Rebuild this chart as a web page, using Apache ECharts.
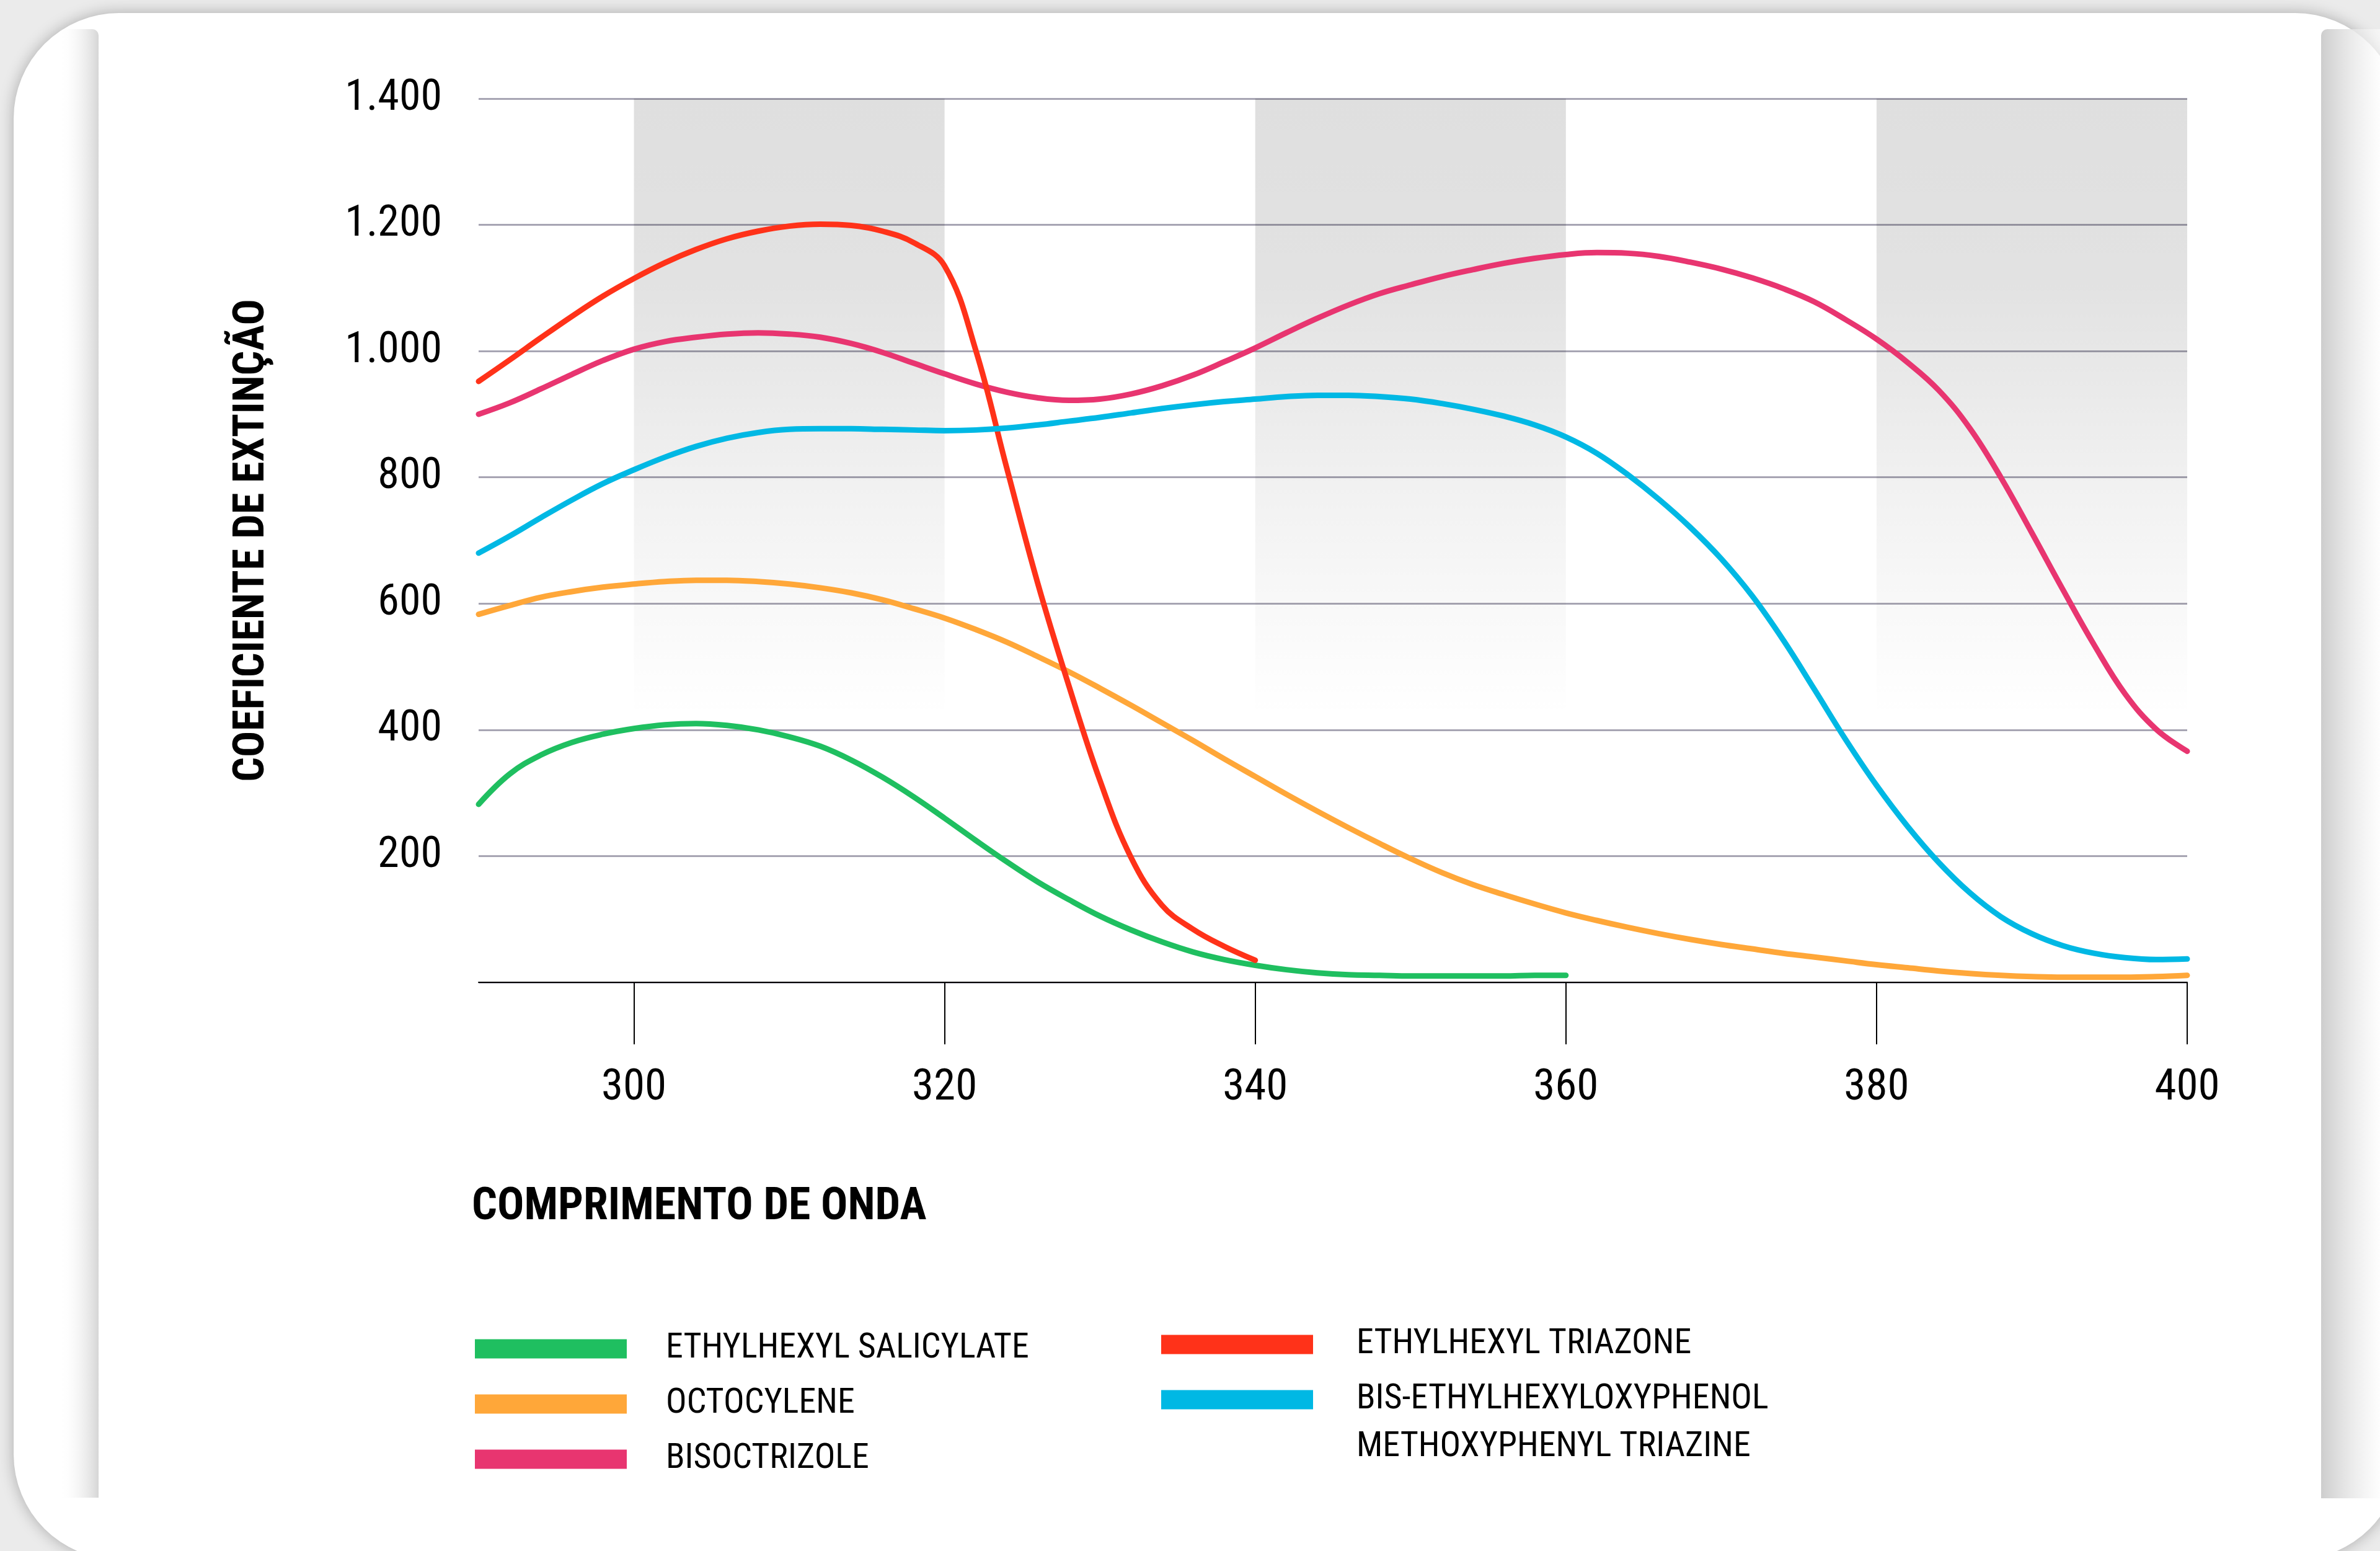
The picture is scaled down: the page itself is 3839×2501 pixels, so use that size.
<!DOCTYPE html>
<html>
<head>
<meta charset="utf-8">
<title>Coeficiente de extinção</title>
<script src="https://cdn.jsdelivr.net/npm/echarts@6/dist/echarts.min.js"></script>
<style>
  html, body { margin: 0; padding: 0; background: #ebebeb; }
  #chart { width: 3839px; height: 2501px; }
</style>
</head>
<body>
<div id="chart"></div>
<script>
var FONT = "'Roboto Condensed', 'Liberation Sans Narrow', 'Liberation Sans', sans-serif";

// comprimento de onda (nm), passo de 2
var wavelength = [290, 292, 294, 296, 298, 300, 302, 304, 306, 308, 310, 312, 314, 316, 318, 320,
  322, 324, 326, 328, 330, 332, 334, 336, 338, 340, 342, 344, 346, 348, 350, 352, 354, 356, 358, 360,
  362, 364, 366, 368, 370, 372, 374, 376, 378, 380, 382, 384, 386, 388, 390, 392, 394, 396, 398, 400];

var names = ['ETHYLHEXYL SALICYLATE', 'OCTOCYLENE', 'BISOCTRIZOLE',
  'ETHYLHEXYL TRIAZONE', 'BIS-ETHYLHEXYLOXYPHENOL METHOXYPHENYL TRIAZINE'];
var colors = ['#1fbf60', '#ffa739', '#e83570', '#ff3219', '#00b8e4'];

var salicylate = [282, 330, 360, 380, 393, 402, 408, 410, 407, 400, 389, 374, 352, 325, 294, 260,
  225, 191, 159, 131, 105, 83, 64, 48, 36, 27, 20, 15, 12, 11, 10, 10, 10, 10, 11, 11];
var octocylene = [583, 597, 610, 619, 626, 631, 635, 637, 637, 635, 631, 625, 617, 606, 592, 577,
  559, 539, 516, 492, 466, 439, 411, 383, 354, 326, 298, 271, 245, 220, 196, 174, 155, 139, 124, 110,
  98, 87, 77, 68, 60, 53, 46, 40, 34, 28, 23, 18, 14, 11, 9, 8, 8, 8, 9, 11];
var bisoctrizole = [900, 918, 940, 963, 985, 1003, 1015, 1022, 1027, 1029, 1027, 1022, 1012, 998, 981, 964,
  948, 935, 926, 922, 924, 932, 945, 962, 983, 1005, 1029, 1052, 1073, 1091, 1105, 1118, 1129, 1139, 1147, 1153,
  1156, 1155, 1150, 1141, 1130, 1116, 1099, 1078, 1050, 1019, 982, 938, 878, 800, 712, 622, 535, 457, 401, 366];
var triazone = [952, 986, 1021, 1055, 1087, 1115, 1140, 1161, 1178, 1190, 1198, 1201, 1199, 1190, 1172, 1135,
  1002, 815, 632, 470, 320, 198, 122, 84, 57, 35];
var bemotrizinol = [680, 707, 736, 764, 790, 812, 832, 849, 862, 871, 876, 877, 877, 876, 875, 874,
  875, 878, 883, 889, 895, 902, 909, 915, 920, 924, 928, 930, 930, 928, 924, 917, 908, 897, 883, 864,
  838, 804, 765, 721, 671, 612, 542, 464, 385, 312, 247, 190, 142, 104, 77, 58, 46, 39, 36, 37];

var yTicks = [0, 200, 400, 600, 800, 1000, 1200, 1400];
var xTicks = [300, 320, 340, 360, 380, 400];
var bands = [[300, 320], [340, 360], [380, 400]];

function pairs(values) {
  var out = [];
  for (var i = 0; i < values.length; i++) out.push([wavelength[i], values[i]]);
  return out;
}

function fmtThousands(v) {
  if (v === 0) return '';
  return String(v).replace(/\B(?=(\d{3})+(?!\d))/g, '.');
}

var bandFill = {
  type: 'linear', x: 0, y: 0, x2: 0, y2: 1,
  colorStops: [
    { offset: 0, color: 'rgba(0,0,0,0.125)' },
    { offset: 0.3, color: 'rgba(0,0,0,0.115)' },
    { offset: 0.65, color: 'rgba(0,0,0,0.05)' },
    { offset: 1, color: 'rgba(0,0,0,0)' }
  ]
};

var seriesValues = [salicylate, octocylene, bisoctrizole, triazone, bemotrizinol];
var series = seriesValues.map(function (vals, i) {
  return {
    name: names[i],
    type: 'line',
    data: pairs(vals),
    smooth: 0.4,
    showSymbol: false,
    color: colors[i],
    lineStyle: { width: 9, color: colors[i], cap: 'round', join: 'round' },
    z: 3 + i
  };
});
series[0].markArea = {
  silent: true,
  itemStyle: { color: bandFill },
  data: bands.map(function (b) {
    return [{ xAxis: b[0], yAxis: yTicks[yTicks.length - 1] }, { xAxis: b[1], yAxis: 420 }];
  })
};

var chart = echarts.init(document.getElementById('chart'), null, { renderer: 'canvas' });
var option = {
  backgroundColor: '#ebebeb',
  animation: false,
  textStyle: { fontFamily: FONT },
  grid: { left: 772, right: 311, top: 159, bottom: 917, containLabel: false },
  xAxis: {
    type: 'value',
    min: 290,
    max: 400,
    name: 'COMPRIMENTO DE ONDA',
    nameLocation: 'start',
    nameGap: 11,
    nameTextStyle: {
      fontFamily: FONT, fontWeight: 'bold', fontSize: 72, color: '#000',
      align: 'left', verticalAlign: 'top', padding: [328, 0, 0, 0]
    },
    axisLine: { show: true, lineStyle: { color: '#000', width: 2 } },
    axisTick: { show: true, customValues: xTicks, length: 100, lineStyle: { color: '#000', width: 2 } },
    axisLabel: { customValues: xTicks, margin: 136, fontFamily: FONT, fontSize: 71, color: '#000' },
    splitLine: { show: false }
  },
  yAxis: {
    type: 'value',
    min: 0,
    max: 1400,
    interval: 200,
    name: 'COEFICIENTE DE EXTINÇÃO',
    nameLocation: 'middle',
    nameGap: 330,
    nameTextStyle: { fontFamily: FONT, fontWeight: 'bold', fontSize: 70, color: '#000' },
    axisLine: { show: false },
    axisTick: { show: false },
    axisLabel: { margin: 59, fontFamily: FONT, fontSize: 70, color: '#000', formatter: fmtThousands },
    splitLine: { show: true, lineStyle: { color: '#a7a5b3', width: 3 } }
  },
  legend: [
    {
      data: names.slice(0, 3),
      left: 766, top: 2147, orient: 'vertical',
      itemWidth: 245, itemHeight: 31, itemGap: 33,
      icon: 'rect', selectedMode: false, padding: 0,
      textStyle: { fontFamily: FONT, fontSize: 56, color: '#000', padding: [0, 0, 0, 58] }
    },
    {
      data: names.slice(3),
      left: 1873, top: 2140, orient: 'vertical',
      itemWidth: 245, itemHeight: 31, itemGap: 33,
      icon: 'rect', selectedMode: false, padding: 0,
      formatter: function (n) { return n === names[4] ? 'BIS-ETHYLHEXYLOXYPHENOL' : n; },
      textStyle: { fontFamily: FONT, fontSize: 56, color: '#000', padding: [0, 0, 0, 65] }
    }
  ],
  graphic: {
    elements: [
      {
        type: 'rect', z: -20, silent: true,
        shape: { x: 22, y: 21, width: 3850, height: 2494, r: 170 },
        style: { fill: '#ffffff', shadowBlur: 24, shadowColor: 'rgba(0,0,0,0.28)' }
      },
      {
        type: 'rect', z: -19, silent: true,
        shape: { x: 96, y: 47, width: 63, height: 2368, r: [0, 10, 0, 0] },
        style: {
          fill: {
            type: 'linear', x: 0, y: 0, x2: 1, y2: 0,
            colorStops: [{ offset: 0, color: 'rgba(255,255,255,0)' }, { offset: 1, color: '#d6d6d6' }]
          }
        }
      },
      {
        type: 'rect', z: -19, silent: true,
        shape: { x: 3744, y: 47, width: 100, height: 2369, r: [10, 0, 0, 0] },
        style: {
          fill: {
            type: 'linear', x: 0, y: 0, x2: 1, y2: 0,
            colorStops: [{ offset: 0, color: '#cdcdcd' }, { offset: 1, color: 'rgba(255,255,255,0.6)' }]
          }
        }
      },
      {
        type: 'text', z: 10, silent: true,
        x: 2188, y: 2334,
        style: {
          text: 'METHOXYPHENYL TRIAZINE',
          fontFamily: FONT, fontSize: 56, fill: '#000',
          verticalAlign: 'middle', align: 'left'
        }
      }
    ]
  },
  series: series
};
chart.setOption(option);
</script>
</body>
</html>
